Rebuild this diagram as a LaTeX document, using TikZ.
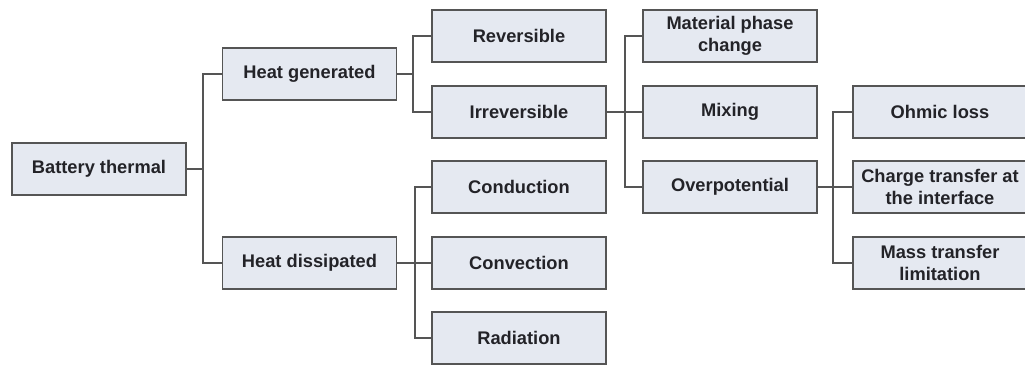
\documentclass[tikz,border=0pt]{standalone}
\usepackage{fontspec}
\setmainfont{Liberation Sans}
\usetikzlibrary{positioning}

\definecolor{boxfill}{RGB}{229,233,241}
\definecolor{boxline}{RGB}{85,85,85}
\definecolor{textcol}{RGB}{35,35,40}

\begin{document}
\begin{tikzpicture}[x=0.025cm, y=-0.025cm,
    item/.style={draw=boxline, fill=boxfill, line width=1.3pt, minimum width=4.35cm,
        minimum height=1.28cm, align=center, inner sep=1pt, text=textcol,
        font=\fontsize{13}{15.5}\selectfont\bfseries},
    link/.style={draw=boxline, line width=1pt}]
    \useasboundingbox (0,0) rectangle (1025,368);

    % level 1 and 2
    \node[item] (bt) at (99,169) {Battery thermal};
    \node[item] (hg) at (309.5,74) {Heat generated};
    \node[item] (hd) at (309.5,263) {Heat dissipated};

    % level 3
    \node[item] (rev) at (519,36) {Reversible};
    \node[item] (irr) at (519,112) {Irreversible};
    \node[item] (cond) at (519,187) {Conduction};
    \node[item] (conv) at (519,263) {Convection};
    \node[item] (rad) at (519,338) {Radiation};

    % level 4
    \node[item] (mpc) at (730,36) {Material phase\\change};
    \node[item] (mix) at (730,112) {Mixing};
    \node[item] (ovp) at (730,187) {Overpotential};

    % level 5
    \node[item] (ohm) at (940,112) {Ohmic loss};
    \node[item] (ct) at (940,187) {Charge transfer at\\the interface};
    \node[item] (mt) at (940,263) {Mass transfer\\limitation};

    % junctions
    \coordinate (j1) at (203,169);
    \coordinate (j2) at (413,74);
    \coordinate (j3) at (415,263);
    \coordinate (j4) at (625,112);
    \coordinate (j5) at (833,187);

    \draw[link] (bt.east) -- (j1);
    \draw[link] (hg.west) -| (j1) |- (hd.west);

    \draw[link] (hg.east) -- (j2);
    \draw[link] (rev.west) -| (j2) |- (irr.west);

    \draw[link] (hd.east) -- (j3) -- (conv.west);
    \draw[link] (cond.west) -| (j3) |- (rad.west);

    \draw[link] (irr.east) -- (j4) -- (mix.west);
    \draw[link] (mpc.west) -| (j4) |- (ovp.west);

    \draw[link] (ovp.east) -- (j5) -- (ct.west);
    \draw[link] (ohm.west) -| (j5) |- (mt.west);
\end{tikzpicture}
\end{document}
